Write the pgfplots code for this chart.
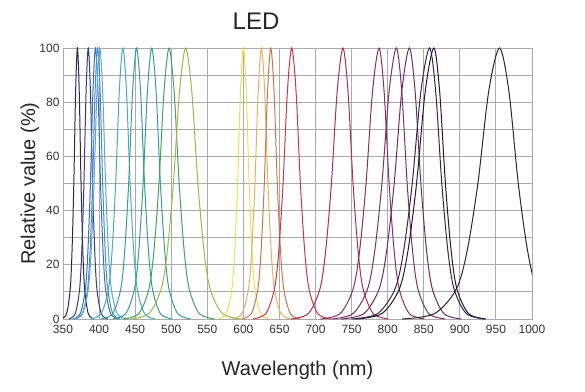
\documentclass[border=0pt]{standalone}
\usepackage{pgfplots}
\pgfplotsset{compat=1.18}
\usepackage{fontspec}
\setmainfont{Liberation Sans}
\definecolor{gridc}{HTML}{ABABAB}
\definecolor{cA}{HTML}{2A2850}
\definecolor{cB}{HTML}{3A3C78}
\definecolor{cC}{HTML}{3A6FB0}
\definecolor{cD}{HTML}{4A8CC8}
\definecolor{cE}{HTML}{58A8D8}
\definecolor{cF}{HTML}{48A8C0}
\definecolor{cG}{HTML}{3A9AA0}
\definecolor{cH}{HTML}{38A088}
\definecolor{cI}{HTML}{46A060}
\definecolor{cJ}{HTML}{A0B848}
\definecolor{cK}{HTML}{F0E050}
\definecolor{cL}{HTML}{E8B060}
\definecolor{cM}{HTML}{C87848}
\definecolor{cN}{HTML}{C83848}
\definecolor{cO}{HTML}{A83050}
\definecolor{cP}{HTML}{883058}
\definecolor{cQ}{HTML}{7A3068}
\definecolor{cR}{HTML}{6A2C60}
\definecolor{cS}{HTML}{3A2448}
\definecolor{cT}{HTML}{281830}
\definecolor{cU}{HTML}{282828}
\begin{document}
\begin{tikzpicture}[x=1pt,y=1pt]
\begin{axis}[
  at={(0,0)}, anchor=south west,
  scale only axis, width=469pt, height=271pt,
  xmin=350, xmax=1000, ymin=0, ymax=100,
  xtick={350,400,...,1000}, ytick={0,20,...,100},
  minor ytick={10,30,50,70,90},
  grid=both,
  major grid style={gridc, line width=0.9pt},
  minor grid style={gridc, line width=0.9pt},
  axis line style={gridc, line width=0.9pt},
  major tick length=0pt, minor tick length=0pt,
  tick label style={font=\fontsize{12}{14}\selectfont, text=black!80},
  xticklabel style={yshift=-3pt},
  /pgf/number format/assume math mode=true,
  /pgf/number format/1000 sep={},
  xlabel={Wavelength (nm)},
  ylabel={Relative value (\%)},
  xlabel style={at={(rel axis cs:0.5,0)}, anchor=base, yshift=-56pt, font=\fontsize{20}{24}\selectfont, text=black!85},
  ylabel style={at={(axis description cs:-0.0597,0.5)}, anchor=base, font=\fontsize{20}{24}\selectfont, text=black!85},
  clip=true,
  every axis plot/.append style={smooth, tension=0.5, line width=1pt},
]
\addplot[cA] coordinates {(347.5,0)(355,2)(360,11)(362.5,25)(365,50)(367.5,84)(370,100)(372.5,84)(375,50)(377.5,25)(380,11)(385,2)(392.5,0)};
\addplot[cB] coordinates {(358,0)(367,2)(373,11)(376,25)(379,50)(382,84)(385,100)(388,84)(391,50)(394,25)(397,11)(403,2)(412,0)};
\addplot[cC] coordinates {(363.5,0)(374,2)(381,11)(384.5,25)(388,50)(391.5,84)(395,100)(398.5,84)(402,50)(405.5,25)(409,11)(416,2)(426.5,0)};
\addplot[cD] coordinates {(366.5,0)(377,2)(384,11)(387.5,25)(391,50)(394.5,84)(398,100)(401.5,84)(405,50)(408.5,25)(412,11)(419,2)(429.5,0)};
\addplot[cE] coordinates {(365,0)(377,2)(385,11)(389,25)(393,50)(397,84)(401,100)(405,84)(409,50)(413,25)(417,11)(425,2)(437,0)};
\addplot[cF] coordinates {(388,0)(403,2)(413,11)(418,25)(423,50)(428,84)(433,100)(438,84)(443,50)(448,25)(453,11)(463,2)(478,0)};
\addplot[cG] coordinates {(402.5,0)(419,2)(430,11)(435.5,25)(441,50)(446.5,84)(452,100)(457.5,84)(463,50)(468.5,25)(474,11)(485,2)(501.5,0)};
\addplot[cH] coordinates {(419,0)(437,2)(449,11)(455,25)(461,50)(467,84)(473,100)(479,84)(485,50)(491,25)(497,11)(509,2)(527,0)};
\addplot[cI] coordinates {(434,0)(455,2)(469,11)(476,25)(483,50)(490,84)(497,100)(504,84)(511,50)(518,25)(525,11)(539,2)(560,0)};
\addplot[cJ] coordinates {(443.5,0)(469,2)(486,11)(494.5,25)(503,50)(511.5,84)(520,100)(528.5,84)(537,50)(545.5,25)(554,11)(571,2)(596.5,0)};
\addplot[cK] coordinates {(564,0)(576,2)(584,11)(588,25)(592,50)(596,84)(600,100)(604,84)(608,50)(612,25)(616,11)(624,2)(636,0)};
\addplot[cL] coordinates {(584.5,0)(598,2)(607,11)(611.5,25)(616,50)(620.5,84)(625,100)(629.5,84)(634,50)(638.5,25)(643,11)(652,2)(665.5,0)};
\addplot[cM] coordinates {(597.5,0)(611,2)(620,11)(624.5,25)(629,50)(633.5,84)(638,100)(642.5,84)(647,50)(651.5,25)(656,11)(665,2)(678.5,0)};
\addplot[cN] coordinates {(613,0)(631,2)(643,11)(649,25)(655,50)(661,84)(667,100)(673,84)(679,50)(685,25)(691,11)(703,2)(721,0)};
\addplot[cO] coordinates {(666,0)(690,2)(706,11)(714,25)(722,50)(730,84)(738,100)(745,84)(752,50)(759,25)(766,11)(780,2)(801,0)};
\addplot[cP] coordinates {(707,0)(734,2)(752,11)(761,25)(770,50)(779,84)(788,100)(795,84)(802,50)(809,25)(816,11)(830,2)(851,0)};
\addplot[cQ] coordinates {(722,0)(752,2)(772,11)(782,25)(792,50)(802,84)(812,100)(819.5,84)(827,50)(834.5,25)(842,11)(857,2)(879.5,0)};
\addplot[cR] coordinates {(735.5,0)(767,2)(788,11)(798.5,25)(809,50)(819.5,84)(830,100)(838,84)(846,50)(854,25)(862,11)(878,2)(902,0)};
\addplot[cS] coordinates {(750,0)(786,2)(810,11)(822,25)(834,50)(846,84)(858,100)(866.5,84)(875,50)(883.5,25)(892,11)(909,2)(934.5,0)};
\addplot[cT] coordinates {(756,0)(792,2)(816,11)(828,25)(840,50)(852,84)(864,100)(872,84)(880,50)(888,25)(896,11)(912,2)(936,0)};
\addplot[cU] coordinates {(820,0)(865,2)(895,11)(910,25)(925,50)(940,84)(955,100)(968,84)(981,50)(994,25)(1007,11)(1033,2)(1072,0)};
\end{axis}
\node[anchor=base, font=\fontsize{24}{28}\selectfont, text=black!85] at (193pt,289pt) {LED};
\pgfresetboundingbox
\path (-63pt,-72pt) rectangle (522pt,319pt);
\end{tikzpicture}
\end{document}
